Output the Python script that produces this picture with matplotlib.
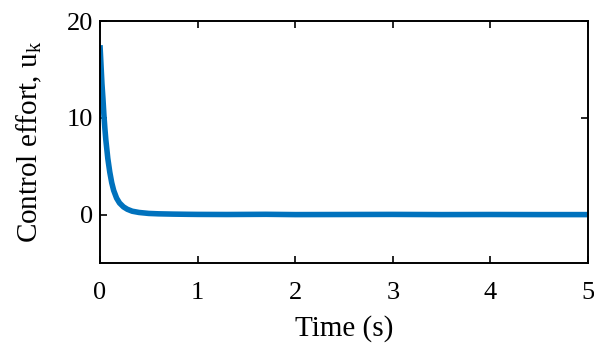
import matplotlib
matplotlib.use("Agg")
from matplotlib import pyplot as plt

plt.rcParams['font.family'] = ['Liberation Serif', 'DejaVu Serif']
plt.rcParams['mathtext.fontset'] = 'custom'
plt.rcParams['mathtext.rm'] = 'Liberation Serif'

# control effort
time_s = [0.0, 0.01, 0.02, 0.03, 0.04, 0.05, 0.06, 0.08, 0.10, 0.12, 0.14,
          0.17, 0.20, 0.24, 0.28, 0.33, 0.40, 0.50, 0.60, 0.75, 0.9,
          1.0, 1.3, 1.7, 2.0, 2.5, 3.0, 3.5, 4.0, 4.5, 5.0]
effort = [17.5, 15.5, 13.5, 12.0, 10.3, 8.9, 7.7, 5.8, 4.4, 3.3, 2.5,
          1.7, 1.2, 0.8, 0.55, 0.35, 0.22, 0.12, 0.08, 0.05, 0.03,
          0.02, 0.01, 0.03, 0.0, 0.01, 0.02, 0.0, 0.01, 0.0, 0.0]
xticks = [0, 1, 2, 3, 4, 5]
yticks = [0, 10, 20]

fig = plt.figure(figsize=(5.94, 3.45), dpi=100)
ax = fig.add_axes([100/594, (345-263)/345, 488/594, 242/345])
ax.plot(time_s, effort, color='#0072BD', lw=4, solid_capstyle='butt')

ax.set_xlim(0, 5)
ax.set_ylim(-5, 20)
ax.set_xticks(xticks)
ax.set_yticks(yticks)
ax.tick_params(direction='in', top=True, right=True, length=5, width=1.2,
               labelsize=19)
ax.tick_params(axis='x', pad=14)
ax.tick_params(axis='y', pad=5)
for s in ax.spines.values():
    s.set_linewidth(1.4)
ax.set_xlabel('Time (s)', fontsize=21, labelpad=8)
ax.set_ylabel(r'Control effort, u$_{\mathregular{k}}$', fontsize=21, labelpad=16)

fig.savefig('out.png', dpi=100)
